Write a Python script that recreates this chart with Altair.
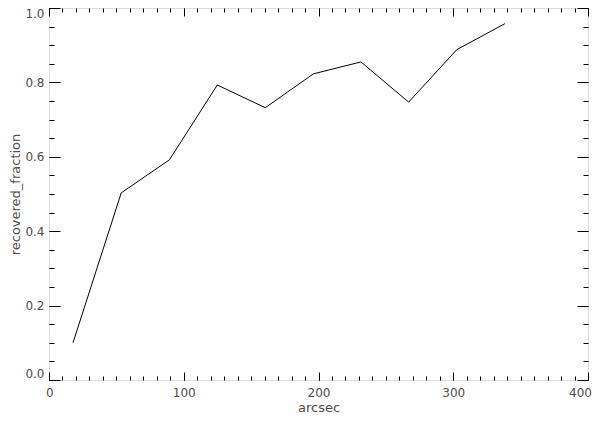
import altair as alt
import pandas as pd

arcsec = [17.8, 53.6, 89.4, 124.9, 160.5, 196.2, 231.5, 266.9, 302.6, 338.4]
recovered_fraction = [0.100, 0.503, 0.592, 0.793, 0.732, 0.823, 0.855, 0.747, 0.888, 0.958]

x_major = [0, 100, 200, 300, 400]
x_minor = [v for v in range(0, 401, 10)]
y_major = [0.0, 0.2, 0.4, 0.6, 0.8, 1.0]
y_minor = [round(i * 0.05, 2) for i in range(21)]

df = pd.DataFrame({"arcsec": arcsec, "recovered_fraction": recovered_fraction})

FONT = "DejaVu Sans"
TXT = "#4d4d4d"
W, H = 539, 372

xs = alt.Scale(domain=[0, 400], nice=False, zero=False)
ys = alt.Scale(domain=[0, 1], nice=False, zero=False)


def tick_axis(orient, values, size):
    return alt.Axis(orient=orient, values=values, ticks=True, tickSize=size,
                    offset=-size, labels=False, domain=False, grid=False,
                    title=None, tickColor="black", tickWidth=1)


base = alt.Chart(df)

main = base.mark_line(color="black", strokeWidth=1).encode(
    x=alt.X("arcsec:Q", scale=xs,
            axis=alt.Axis(orient="bottom", values=x_major, ticks=False, tickSize=0,
                          domain=False, grid=False, labelPadding=16,
                          labelBaseline="alphabetic",
                          labelFont=FONT, labelFontSize=12, labelColor=TXT,
                          labelFlush=True, labelFlushOffset=3.5, format="d",
                          title="arcsec", titleFont=FONT, titleFontSize=13,
                          titleFontWeight="normal", titleColor=TXT,
                          titleBaseline="alphabetic", titleY=31, titleX=W / 2)),
    y=alt.Y("recovered_fraction:Q", scale=ys,
            axis=alt.Axis(orient="left", values=y_major, ticks=False, tickSize=0,
                          domain=False, grid=False, labelPadding=5,
                          labelFont=FONT, labelFontSize=12, labelColor=TXT,
                          labelFlush=True, format=".1f",
                          title="recovered_fraction", titleFont=FONT, titleFontSize=13,
                          titleFontWeight="normal", titleColor=TXT,
                          titleBaseline="alphabetic", titleAngle=270,
                          titleX=-30, titleY=H / 2)),
)


def ghost(xo, xv, xsz, yo, yv, ysz):
    return base.mark_line(opacity=0).encode(
        x=alt.X("arcsec:Q", scale=xs, axis=tick_axis(xo, xv, xsz)),
        y=alt.Y("recovered_fraction:Q", scale=ys, axis=tick_axis(yo, yv, ysz)),
    )


layers = [
    main,
    ghost("bottom", x_major, 8, "left", y_major, 11),
    ghost("bottom", x_minor, 4, "left", y_minor, 5),
    ghost("top", x_major, 8, "right", y_major, 11),
    ghost("top", x_minor, 4, "right", y_minor, 5),
]

chart = alt.layer(*layers).resolve_axis(x="independent", y="independent").properties(
    width=W, height=H,
    autosize=alt.AutoSizeParams(type="none"),
    padding={"left": 41, "top": 0, "right": 4, "bottom": 36},
).configure_view(stroke="black", strokeWidth=1).configure(background="white")

chart.save("out.html", embed_options={"renderer": "svg", "actions": False})
